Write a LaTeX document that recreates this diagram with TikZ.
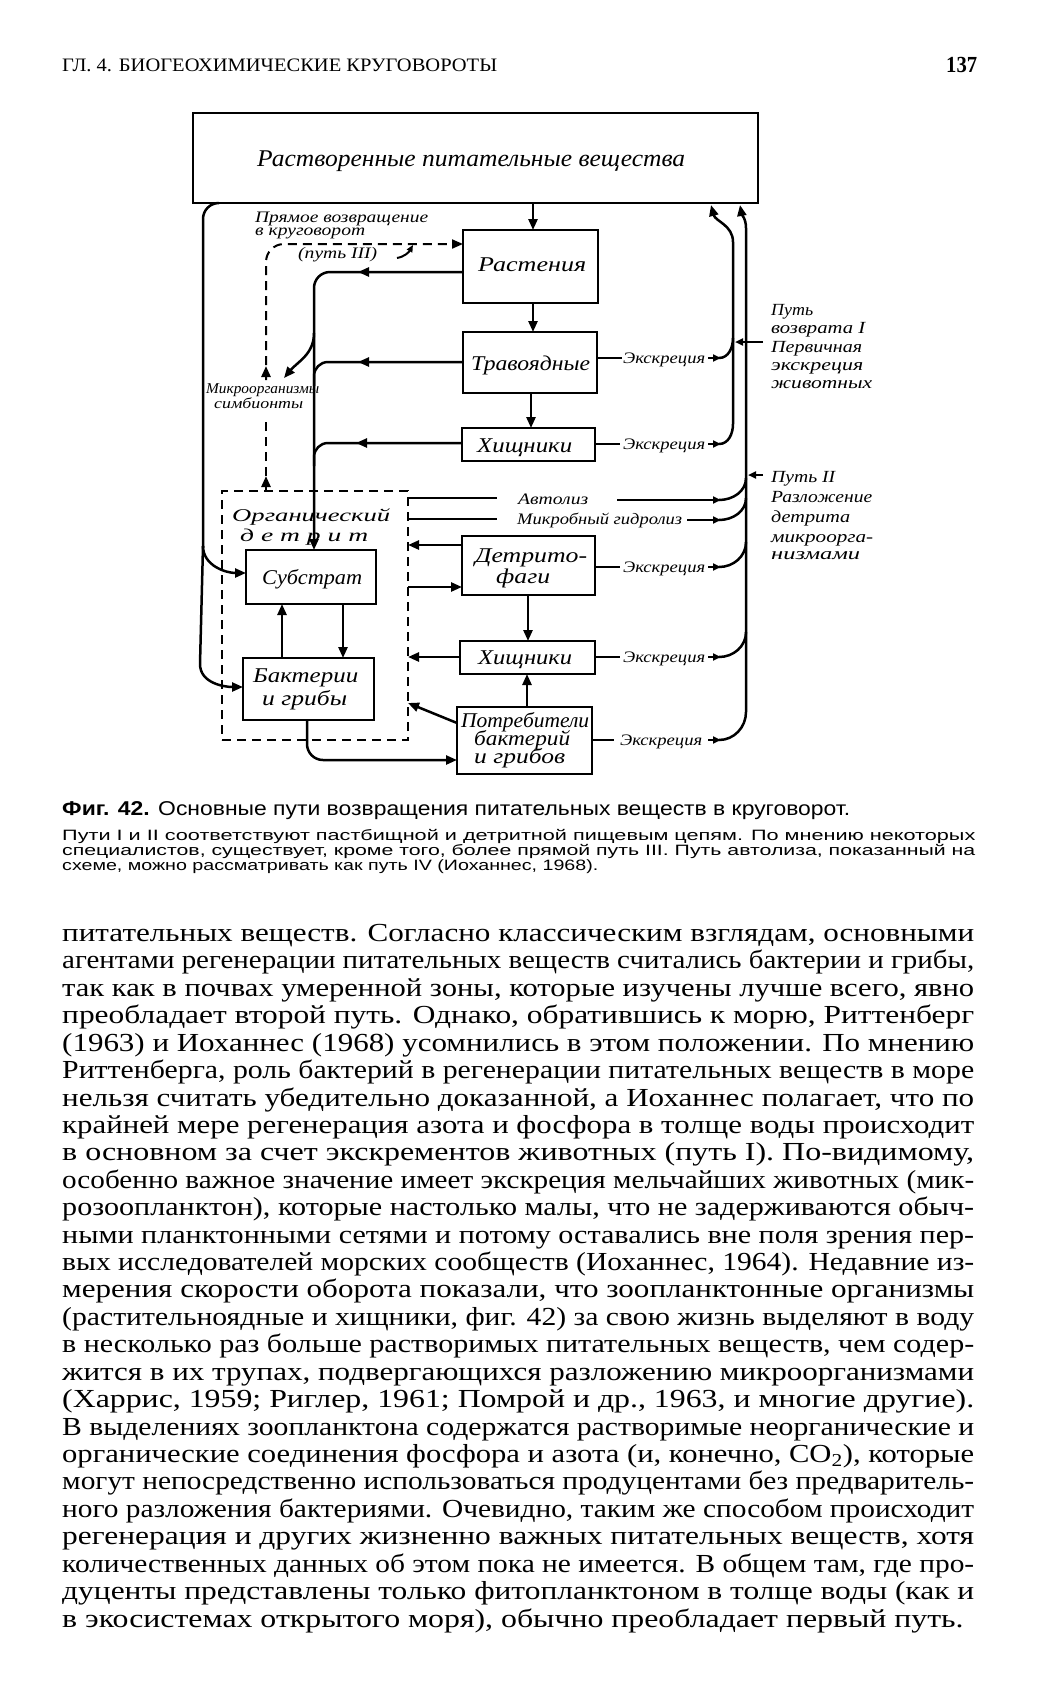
\documentclass[tikz,border=0pt]{standalone}
\usepackage{fontspec}
\setmainfont{Liberation Serif}
\newfontfamily\capfont{Liberation Sans}
\usetikzlibrary{arrows.meta}
\newcommand\fitto[2]{\resizebox{#1pt}{\height}{#2}}
\newcommand\myfs[1]{\fontsize{#1pt}{#1pt}\selectfont}
\tikzset{
  box/.style={draw, line width=2pt, inner sep=0pt, outer sep=0pt},
  conn/.style={line width=2.5pt},
  arr/.style={-{Triangle[length=11pt,width=9pt]}},
  sarr/.style={-{Triangle[length=8pt,width=7pt]}},
  lbl/.style={inner sep=0pt, anchor=base west},
  dsh/.style={dash pattern=on 9pt off 6pt, line width=2pt},
  dlab/.style={lbl, font=\itshape\myfs{21}},
  slab/.style={lbl, font=\itshape\myfs{16}},
  rlab/.style={lbl, font=\itshape\myfs{17}},
}
\begin{document}
\begin{tikzpicture}[x=1pt,y=-1pt]
\useasboundingbox (0,0) rectangle (1038,1684);
\fill[white] (0,0) rectangle (1038,1684);

% ---------- header ----------
\node[lbl, font=\myfs{19}] (head) at (62,71) {\fitto{435}{ГЛ. 4. БИОГЕОХИМИЧЕСКИЕ КРУГОВОРОТЫ}};
\node[lbl, font=\bfseries\myfs{23}] (pnum) at (946,72) {\fitto{31}{137}};

% ---------- boxes ----------
\node[box, line width=2.2pt, minimum width=565pt, minimum height=90pt] (top) at (475.5,158) {};
\node[box, minimum width=135pt, minimum height=73pt] (rast) at (530.5,266.5) {};
\node[box, minimum width=134pt, minimum height=61pt] (trav) at (530,362.5) {};
\node[box, minimum width=133pt, minimum height=33pt] (hish1) at (528.5,444.5) {};
\node[draw, dsh, inner sep=0pt, outer sep=0pt, minimum width=186pt, minimum height=249pt] (detbox) at (315,615.5) {};
\node[box, minimum width=130pt, minimum height=54pt] (subst) at (311,577) {};
\node[box, minimum width=131pt, minimum height=62pt] (bact) at (308.5,689) {};
\node[box, minimum width=133pt, minimum height=59pt] (detfag) at (528.5,565.5) {};
\node[box, minimum width=135pt, minimum height=33pt] (hish2) at (527.5,657.5) {};
\node[box, minimum width=135pt, minimum height=67pt] (potr) at (524.5,740.5) {};

% ---------- box labels ----------
\node[lbl, font=\itshape\myfs{24}] (ttop) at (257,166) {\fitto{428}{Растворенные питательные вещества}};
\node[dlab] (trast) at (478,271) {\fitto{108}{Растения}};
\node[dlab] (ttrav) at (471,370) {\fitto{119}{Травоядные}};
\node[dlab] (thish1) at (477,452) {\fitto{95}{Хищники}};
\node[lbl, font=\itshape\myfs{18}] (torg) at (232,521) {\fitto{158}{Органический}};
\node[lbl, font=\itshape\myfs{18}] (tdet) at (240,541) {\fitto{128}{д е т р и т}};
\node[dlab] (tsubst) at (262,584) {\fitto{100}{Субстрат}};
\node[dlab] (tbact1) at (253,682) {\fitto{105}{Бактерии}};
\node[dlab] (tbact2) at (262,705) {\fitto{85}{и грибы}};
\node[dlab] (tdf1) at (475,562) {\fitto{112}{Детрито-}};
\node[dlab] (tdf2) at (496,583) {\fitto{54}{фаги}};
\node[dlab] (thish2) at (478,664) {\fitto{94}{Хищники}};
\node[dlab] (tpotr1) at (461,727) {\fitto{128}{Потребители}};
\node[dlab] (tpotr2) at (474,745) {\fitto{96}{бактерий}};
\node[dlab] (tpotr3) at (474,763) {\fitto{91}{и грибов}};

% ---------- small labels ----------
\node[slab] (pr1) at (255,222) {\fitto{173}{Прямое возвращение}};
\node[slab] (pr2) at (255,235) {\fitto{110}{в круговорот}};
\node[slab] (pr3) at (298,258) {\fitto{79}{(путь III)}};
\node[lbl, font=\itshape\myfs{15}] (mik1) at (206,393) {\fitto{113}{Микроорганизмы}};
\node[lbl, font=\itshape\myfs{15}] (mik2) at (214,408) {\fitto{89}{симбионты}};
\node[slab] (ex1) at (623,363) {\fitto{82}{Экскреция}};
\node[slab] (ex2) at (623,449) {\fitto{82}{Экскреция}};
\node[slab] (ex3) at (623,572) {\fitto{82}{Экскреция}};
\node[slab] (ex4) at (623,662) {\fitto{82}{Экскреция}};
\node[slab] (ex5) at (620,745) {\fitto{82}{Экскреция}};
\node[slab] (auto) at (518,504) {\fitto{70}{Автолиз}};
\node[slab] (micr) at (517,524) {\fitto{165}{Микробный гидролиз}};

\node[rlab] (p1a) at (771,315) {\fitto{42}{Путь}};
\node[rlab] (p1b) at (771,333) {\fitto{94}{возврата I}};
\node[rlab] (p1c) at (771,352) {\fitto{91}{Первичная}};
\node[rlab] (p1d) at (771,370) {\fitto{92}{экскреция}};
\node[rlab] (p1e) at (771,388) {\fitto{101}{животных}};
\node[rlab] (p2a) at (771,482) {\fitto{64}{Путь II}};
\node[rlab] (p2b) at (771,502) {\fitto{101}{Разложение}};
\node[rlab] (p2c) at (771,522) {\fitto{79}{детрита}};
\node[rlab] (p2d) at (771,542) {\fitto{102}{микроорга-}};
\node[rlab] (p2e) at (771,559) {\fitto{89}{низмами}};

% ---------- vertical main flow ----------
\draw[conn,arr] (top.south -| 533,0) -- (rast.north -| 533,0);
\draw[conn,arr] (rast.south -| 533,0) -- (trav.north -| 533,0);
\draw[conn,arr] (trav.south -| 531,0) -- (hish1.north -| 531,0);
\draw[conn,arr] (detfag.south -| 528,0) -- (hish2.north -| 528,0);
\draw[conn,arr] (potr.north -| 527,0) -- (hish2.south -| 527,0);
\draw[conn,arr] (bact.north -| 282,0) -- (subst.south -| 282,0);
\draw[conn,arr] (subst.south -| 343,0) -- (bact.north -| 343,0);

% ---------- dead matter to substrate ----------
\draw[conn,rounded corners=16pt,arr] (rast.west |- 0,272) -- (314,272) -- (subst.north -| 314,0);
\draw[conn,rounded corners=14pt] (trav.west |- 0,362) -- (314,362) -- (314,386);
\draw[conn,rounded corners=14pt] (hish1.west |- 0,443) -- (314,443) -- (314,466);
\draw[conn,arr] (372,272) -- (358,272);
\draw[conn,arr] (372,362) -- (358,362);
\draw[conn,arr] (370,443) -- (356,443);
\draw[conn,arr] (314,333) to[out=-90,in=50] (284,378);

% ---------- left loop from dissolved nutrients ----------
\draw[conn] (top.south -| 219,0) to[out=180,in=90] (203,219) -- (203,548);
\draw[conn,arr] (203,546) to[out=-90,in=180] (subst.west |- 0,573);
\draw[conn,arr] (203,546) -- (200,664) to[out=-90,in=180] (bact.west |- 0,687);

% ---------- path III (dashed) ----------
\draw[dsh,rounded corners=18pt,arr] (266,380) -- (266,244) -- (rast.west |- 0,244);
\draw[conn,arr] (266,379) -- (266,366);
\draw[dsh] (detbox.north -| 266,0) -- (266,418);
\draw[conn,arr] (266,488) -- (266,476);
\draw[line width=2pt,-{Triangle[length=7pt,width=6pt]}] (397,258) to[out=10,in=-120] (413,245);

% ---------- exchanges with detritus ----------
\draw[conn] (detbox.east |- 0,498) -- (497,498);
\draw[conn] (detbox.east |- 0,519) -- (497,519);
\draw[conn,arr] (detfag.west |- 0,545) -- (detbox.east |- 0,545);
\draw[conn,arr] (detbox.east |- 0,587) -- (detfag.west |- 0,587);
\draw[conn,arr] (hish2.west |- 0,657) -- (detbox.east |- 0,657);
\draw[conn,arr] (potr.west |- 0,723) -- (detbox.east |- 0,703);
\draw[conn,rounded corners=16pt,arr] (bact.south -| 307,0) -- (307,760) -- (potr.west |- 0,760);

% ---------- excretion lines ----------
\draw[conn] (trav.east |- 0,358) -- (622,358);
\draw[conn] (hish1.east |- 0,444) -- (620,444);
\draw[conn] (detfag.east |- 0,567) -- (620,567);
\draw[conn] (hish2.east |- 0,657) -- (620,657);
\draw[conn] (potr.east |- 0,740) -- (614,740);
\draw[conn] (617,500) -- (712,500);
\draw[conn] (687,520) -- (712,520);
\foreach \yy in {358,444,500,520,567,657,740}{
  \draw[line width=1.8pt,sarr] (708,\yy) -- (721,\yy);
}

% inner return line (path I)
\draw[conn] (719,358) to[out=0,in=-90] (733,338);
\draw[conn,arr] (719,444) to[out=0,in=-90] (733,424) -- (733,242) to[out=90,in=-75] (711,205);
% outer return line (path II)
\draw[conn] (719,500) to[out=0,in=-90] (746,478);
\draw[conn] (719,520) to[out=0,in=-90] (746,498);
\draw[conn] (719,567) to[out=0,in=-90] (746,542);
\draw[conn] (719,657) to[out=0,in=-90] (746,632);
\draw[conn,arr] (719,740) to[out=0,in=-90] (746,712) -- (746,228) to[out=90,in=-80] (740,205);

\draw[line width=2pt,sarr] (p1b.west |- 0,342) ++(-8,0) -- (735,342);
\draw[line width=2pt,sarr] (p2a.west |- 0,475) ++(-8,0) -- (748,475);

% ---------- caption ----------
\node[lbl, font=\capfont\myfs{20}] (cap1) at (62,815) {\fitto{788}{\textbf{Фиг. 42.} Основные пути возвращения питательных веществ в круговорот.}};
\node[lbl, font=\capfont\myfs{15}] (cap2) at (62,840) {\fitto{913}{Пути I и II соответствуют пастбищной и детритной пищевым цепям. По мнению некоторых}};
\node[lbl, font=\capfont\myfs{15}] (cap3) at (62,855) {\fitto{913}{специалистов, существует, кроме того, более прямой путь III. Путь автолиза, показанный на}};
\node[lbl, font=\capfont\myfs{15}] (cap4) at (62,870) {\fitto{536}{схеме, можно рассматривать как путь IV (Иоханнес, 1968).}};

% ---------- body text ----------
\foreach \t [count=\i] in {
{питательных веществ. Согласно классическим взглядам, основными},
{агентами регенерации питательных веществ считались бактерии и грибы,},
{так как в почвах умеренной зоны, которые изучены лучше всего, явно},
{преобладает второй путь. Однако, обратившись к морю, Риттенберг},
{(1963) и Иоханнес (1968) усомнились в этом положении. По мнению},
{Риттенберга, роль бактерий в регенерации питательных веществ в море},
{нельзя считать убедительно доказанной, а Иоханнес полагает, что по},
{крайней мере регенерация азота и фосфора в толще воды происходит},
{в основном за счет экскрементов животных (путь I). По-видимому,},
{особенно важное значение имеет экскреция мельчайших животных (мик-},
{розоопланктон), которые настолько малы, что не задерживаются обыч-},
{ными планктонными сетями и потому оставались вне поля зрения пер-},
{вых исследователей морских сообществ (Иоханнес, 1964). Недавние из-},
{мерения скорости оборота показали, что зоопланктонные организмы},
{(растительноядные и хищники, фиг. 42) за свою жизнь выделяют в воду},
{в несколько раз больше растворимых питательных веществ, чем содер-},
{жится в их трупах, подвергающихся разложению микроорганизмами},
{(Харрис, 1959; Риглер, 1961; Помрой и др., 1963, и многие другие).},
{В выделениях зоопланктона содержатся растворимые неорганические и},
{органические соединения фосфора и азота (и, конечно, CO\textsubscript{2}), которые},
{могут непосредственно использоваться продуцентами без предваритель-},
{ного разложения бактериями. Очевидно, таким же способом происходит},
{регенерация и других жизненно важных питательных веществ, хотя},
{количественных данных об этом пока не имеется. В общем там, где про-},
{дуценты представлены только фитопланктоном в толще воды (как и},
{в экосистемах открытого моря), обычно преобладает первый путь.}
}{
  \node[lbl, font=\myfs{26}] (b\i) at (62,{941.5+(\i-1)*27.42}) {\fitto{912}{\t}};
}
\end{tikzpicture}
\end{document}
